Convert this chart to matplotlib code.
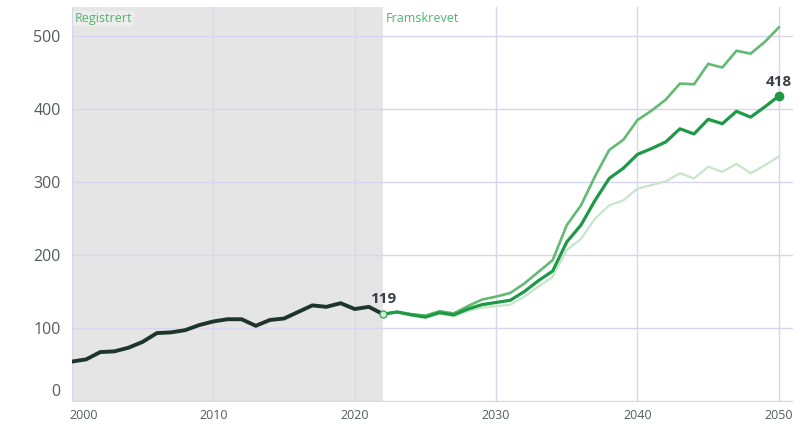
import matplotlib.pyplot as plt
import matplotlib.transforms as mtransforms

plt.rcParams['font.family'] = ['Open Sans', 'DejaVu Sans']

# Registrerte verdier
aar_reg = list(range(2000, 2023))
registrert = [54, 57, 67, 68, 73, 81, 93, 94, 97, 104, 109, 112, 112, 103, 111, 113,
              122, 131, 129, 134, 126, 129, 119]

# Framskrivinger 2022-2050
aar_fram = list(range(2022, 2051))
middel = [119, 122, 118, 115, 121, 118, 126, 132, 135, 138, 150, 165, 178, 218, 241,
          275, 305, 319, 338, 346, 355, 373, 366, 386, 380, 397, 389, 403, 418]
hoy = [119, 122, 119, 117, 123, 120, 130, 139, 143, 148, 161, 177, 193, 241, 268,
       308, 344, 358, 385, 398, 413, 435, 434, 462, 457, 480, 476, 492, 512]
lav = [119, 121, 117, 114, 120, 116, 123, 128, 130, 132, 143, 157, 170, 207, 222,
       250, 268, 275, 291, 296, 301, 312, 305, 321, 314, 325, 312, 323, 335]

xticks = [2000, 2010, 2020, 2030, 2040, 2050]
yticks = [0, 100, 200, 300, 400, 500]

fig = plt.figure(figsize=(8.05, 4.24), dpi=100)
ax = fig.add_axes([0.0894, 0.0526, 0.8957, 0.931])

ax.axvspan(2000, 2022, color='#e5e5e5', zorder=0, lw=0)
ax.grid(True, color='#d6d6ee', lw=1, zorder=1)
ax.set_axisbelow(False)

ax.plot(aar_fram, lav, color='#c6e6c9', lw=1.6, zorder=3)
ax.plot(aar_fram, hoy, color='#62ba73', lw=1.9, zorder=4)
ax.plot(aar_fram, middel, color='#1e9a47', lw=2.3, zorder=5)
ax.plot(aar_reg, registrert, color='#1d352d', lw=2.8, zorder=6)

ax.plot(aar_fram[0], middel[0], 'o', ms=5, mfc='#d9eed9', mec='#3aa35a', mew=1, zorder=7)
ax.plot(aar_fram[-1], middel[-1], 'o', ms=6, color='#1e9a47', zorder=7)
ax.annotate(str(registrert[-1]), (aar_reg[-1], registrert[-1]), xytext=(0, 6),
            textcoords='offset points', ha='center', va='bottom',
            fontsize=11, fontweight='bold', color='#3a3f44', zorder=8)
ax.annotate(str(middel[-1]), (aar_fram[-1], middel[-1]), xytext=(0, 5),
            textcoords='offset points', ha='center', va='bottom',
            fontsize=11, fontweight='bold', color='#3a3f44', zorder=8)

ax.text(2000.2, 533, 'Registrert', color='#4fb46e', fontsize=9, va='top', ha='left',
        bbox=dict(facecolor='#f0f0f0', edgecolor='none', pad=1, alpha=0.8), zorder=8)
ax.text(2022.2, 533, 'Framskrevet', color='#4fb46e', fontsize=9, va='top', ha='left',
        zorder=8)

ax.set_xlim(2000, 2051)
ax.set_ylim(-1, 540)
ax.set_xticks(xticks)
ax.set_yticks(yticks)
ax.tick_params(length=0, colors='#555b60')
ax.tick_params(axis='y', labelsize=11.5, pad=8)
ax.tick_params(axis='x', labelsize=9, pad=5)
for s in ax.spines.values():
    s.set_visible(False)

# første etikett flyttes litt inn, som i originalen
xl = ax.get_xticklabels()[0]
xl.set_transform(xl.get_transform() + mtransforms.ScaledTranslation(12 / 100, 0, fig.dpi_scale_trans))
yl = ax.get_yticklabels()[0]
yl.set_transform(yl.get_transform() + mtransforms.ScaledTranslation(0, 11 / 100, fig.dpi_scale_trans))

fig.savefig('out.png', dpi=100)
